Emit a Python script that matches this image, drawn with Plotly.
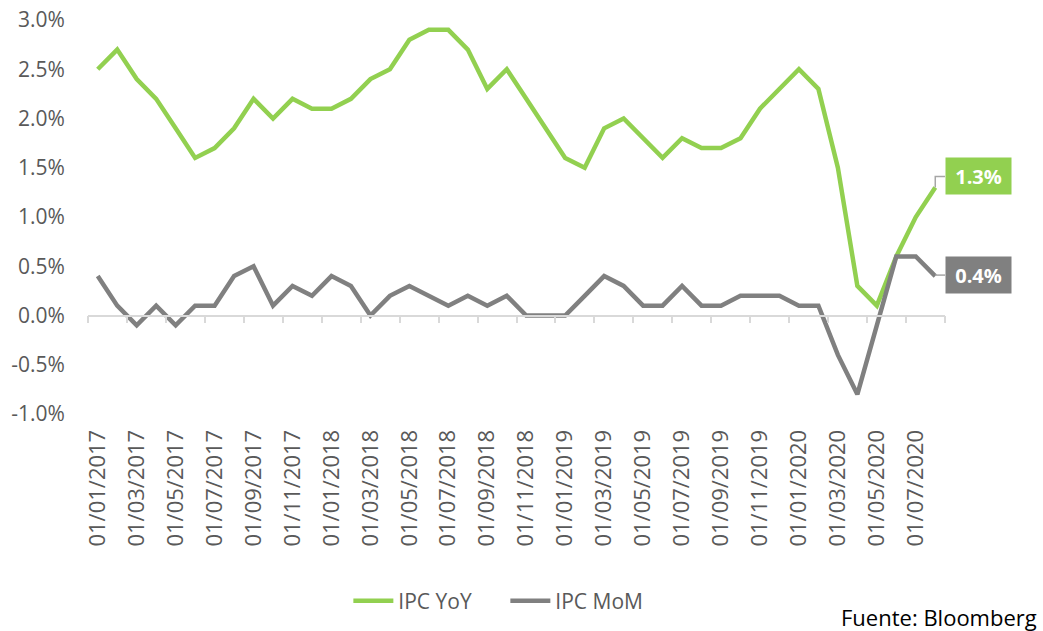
import plotly.graph_objects as go

months = [f"01/{m:02d}/{y}" for y in (2017, 2018, 2019, 2020) for m in range(1, 13)][:44]

ipc_yoy = [2.5, 2.7, 2.4, 2.2, 1.9, 1.6, 1.7, 1.9, 2.2, 2.0, 2.2, 2.1,
           2.1, 2.2, 2.4, 2.5, 2.8, 2.9, 2.9, 2.7, 2.3, 2.5, 2.2, 1.9,
           1.6, 1.5, 1.9, 2.0, 1.8, 1.6, 1.8, 1.7, 1.7, 1.8, 2.1, 2.3,
           2.5, 2.3, 1.5, 0.3, 0.1, 0.6, 1.0, 1.3]
ipc_mom = [0.4, 0.1, -0.1, 0.1, -0.1, 0.1, 0.1, 0.4, 0.5, 0.1, 0.3, 0.2,
           0.4, 0.3, 0.0, 0.2, 0.3, 0.2, 0.1, 0.2, 0.1, 0.2, 0.0, 0.0,
           0.0, 0.2, 0.4, 0.3, 0.1, 0.1, 0.3, 0.1, 0.1, 0.2, 0.2, 0.2,
           0.1, 0.1, -0.4, -0.8, -0.1, 0.6, 0.6, 0.4]

tick_labels = months[::2]
y_ticks = [-1.0, -0.5, 0.0, 0.5, 1.0, 1.5, 2.0, 2.5, 3.0]

GREEN = "#92D050"
GRAY = "#808080"
TXT = "#595959"
LEADER = "#a6a6a6"
FONT = "Open Sans"

fig = go.Figure()
fig.add_trace(go.Scatter(x=months, y=ipc_yoy, mode="lines", name="IPC YoY",
                         line=dict(color=GREEN, width=4.5)))
fig.add_trace(go.Scatter(x=months, y=ipc_mom, mode="lines", name="IPC MoM",
                         line=dict(color=GRAY, width=4.5)))

n = len(months)
fig.update_layout(
    width=1043, height=631,
    margin=dict(l=88, r=98, t=20, b=217, autoexpand=False),
    paper_bgcolor="white", plot_bgcolor="white",
    font=dict(family=FONT, size=20, color=TXT),
    showlegend=True,
    legend=dict(orientation="h", x=0.487, xanchor="center", y=-0.475, yanchor="middle",
                font=dict(family=FONT, size=21, color=TXT), itemwidth=40,
                entrywidth=102, entrywidthmode="pixels"),
    xaxis=dict(type="category", range=[-0.5, n - 0.5], tickvals=tick_labels, ticktext=tick_labels,
               tickangle=-90, showline=False, showgrid=False, zeroline=False, automargin=False,
               ticks="outside", ticklen=6, tickcolor="rgba(0,0,0,0)",
               tickfont=dict(family=FONT, size=22, color=TXT)),
    xaxis2=dict(overlaying="x", anchor="free", position=0.25, range=[-0.5, n - 0.5],
                tickvals=[i - 0.5 for i in range(0, n + 1, 2)], showticklabels=False,
                showline=True, linecolor="#d9d9d9", linewidth=1.5, automargin=False,
                ticks="outside", ticklen=7, tickcolor="#d9d9d9", tickwidth=1.5,
                showgrid=False, zeroline=False),
    yaxis=dict(range=[-1.0, 3.0], tickvals=y_ticks, ticktext=[f"{v:.1f}%" for v in y_ticks],
               showgrid=False, zeroline=False, showline=False, automargin=False,
               ticks="outside", ticklen=18, tickcolor="rgba(0,0,0,0)",
               tickfont=dict(family=FONT, size=21, color=TXT)),
)

# dummy trace to make sure xaxis2 is drawn
fig.add_trace(go.Scatter(x=[0], y=[0], xaxis="x2", mode="markers", marker=dict(opacity=0),
                         showlegend=False, hoverinfo="skip"))

last = months[-1]
# data labels with leader lines (offsets in pixels from the last data point)
fig.add_annotation(x=last, y=ipc_yoy[-1], xref="x", yref="y",
                   text=f"<b>{ipc_yoy[-1]:.1f}%</b>", showarrow=False,
                   xshift=43.5, yshift=11.5,
                   bgcolor=GREEN, font=dict(family=FONT, size=20, color="white"),
                   width=57, height=28, borderpad=4)
fig.add_annotation(x=last, y=ipc_mom[-1], xref="x", yref="y",
                   text=f"<b>{ipc_mom[-1]:.1f}%</b>", showarrow=False,
                   xshift=43.5, yshift=1.5,
                   bgcolor=GRAY, font=dict(family=FONT, size=20, color="white"),
                   width=57, height=28, borderpad=4)
fig.add_shape(type="path", xref="x", yref="y", xsizemode="pixel", ysizemode="pixel",
              xanchor=last, yanchor=ipc_yoy[-1], path="M0,0 L0,11 L11,11",
              line=dict(color=LEADER, width=1.5))
fig.add_shape(type="path", xref="x", yref="y", xsizemode="pixel", ysizemode="pixel",
              xanchor=last, yanchor=ipc_mom[-1], path="M0,1 L11,1",
              line=dict(color=LEADER, width=1.5))

fig.add_annotation(text="Fuente: Bloomberg", xref="paper", yref="paper",
                   x=(1039 - 88) / 857, xanchor="right", y=-0.515, yanchor="middle",
                   showarrow=False, font=dict(family=FONT, size=22, color="black"))

fig.write_html("out.html", config={"displayModeBar": False},
               post_script="document.body.style.margin='0';")
